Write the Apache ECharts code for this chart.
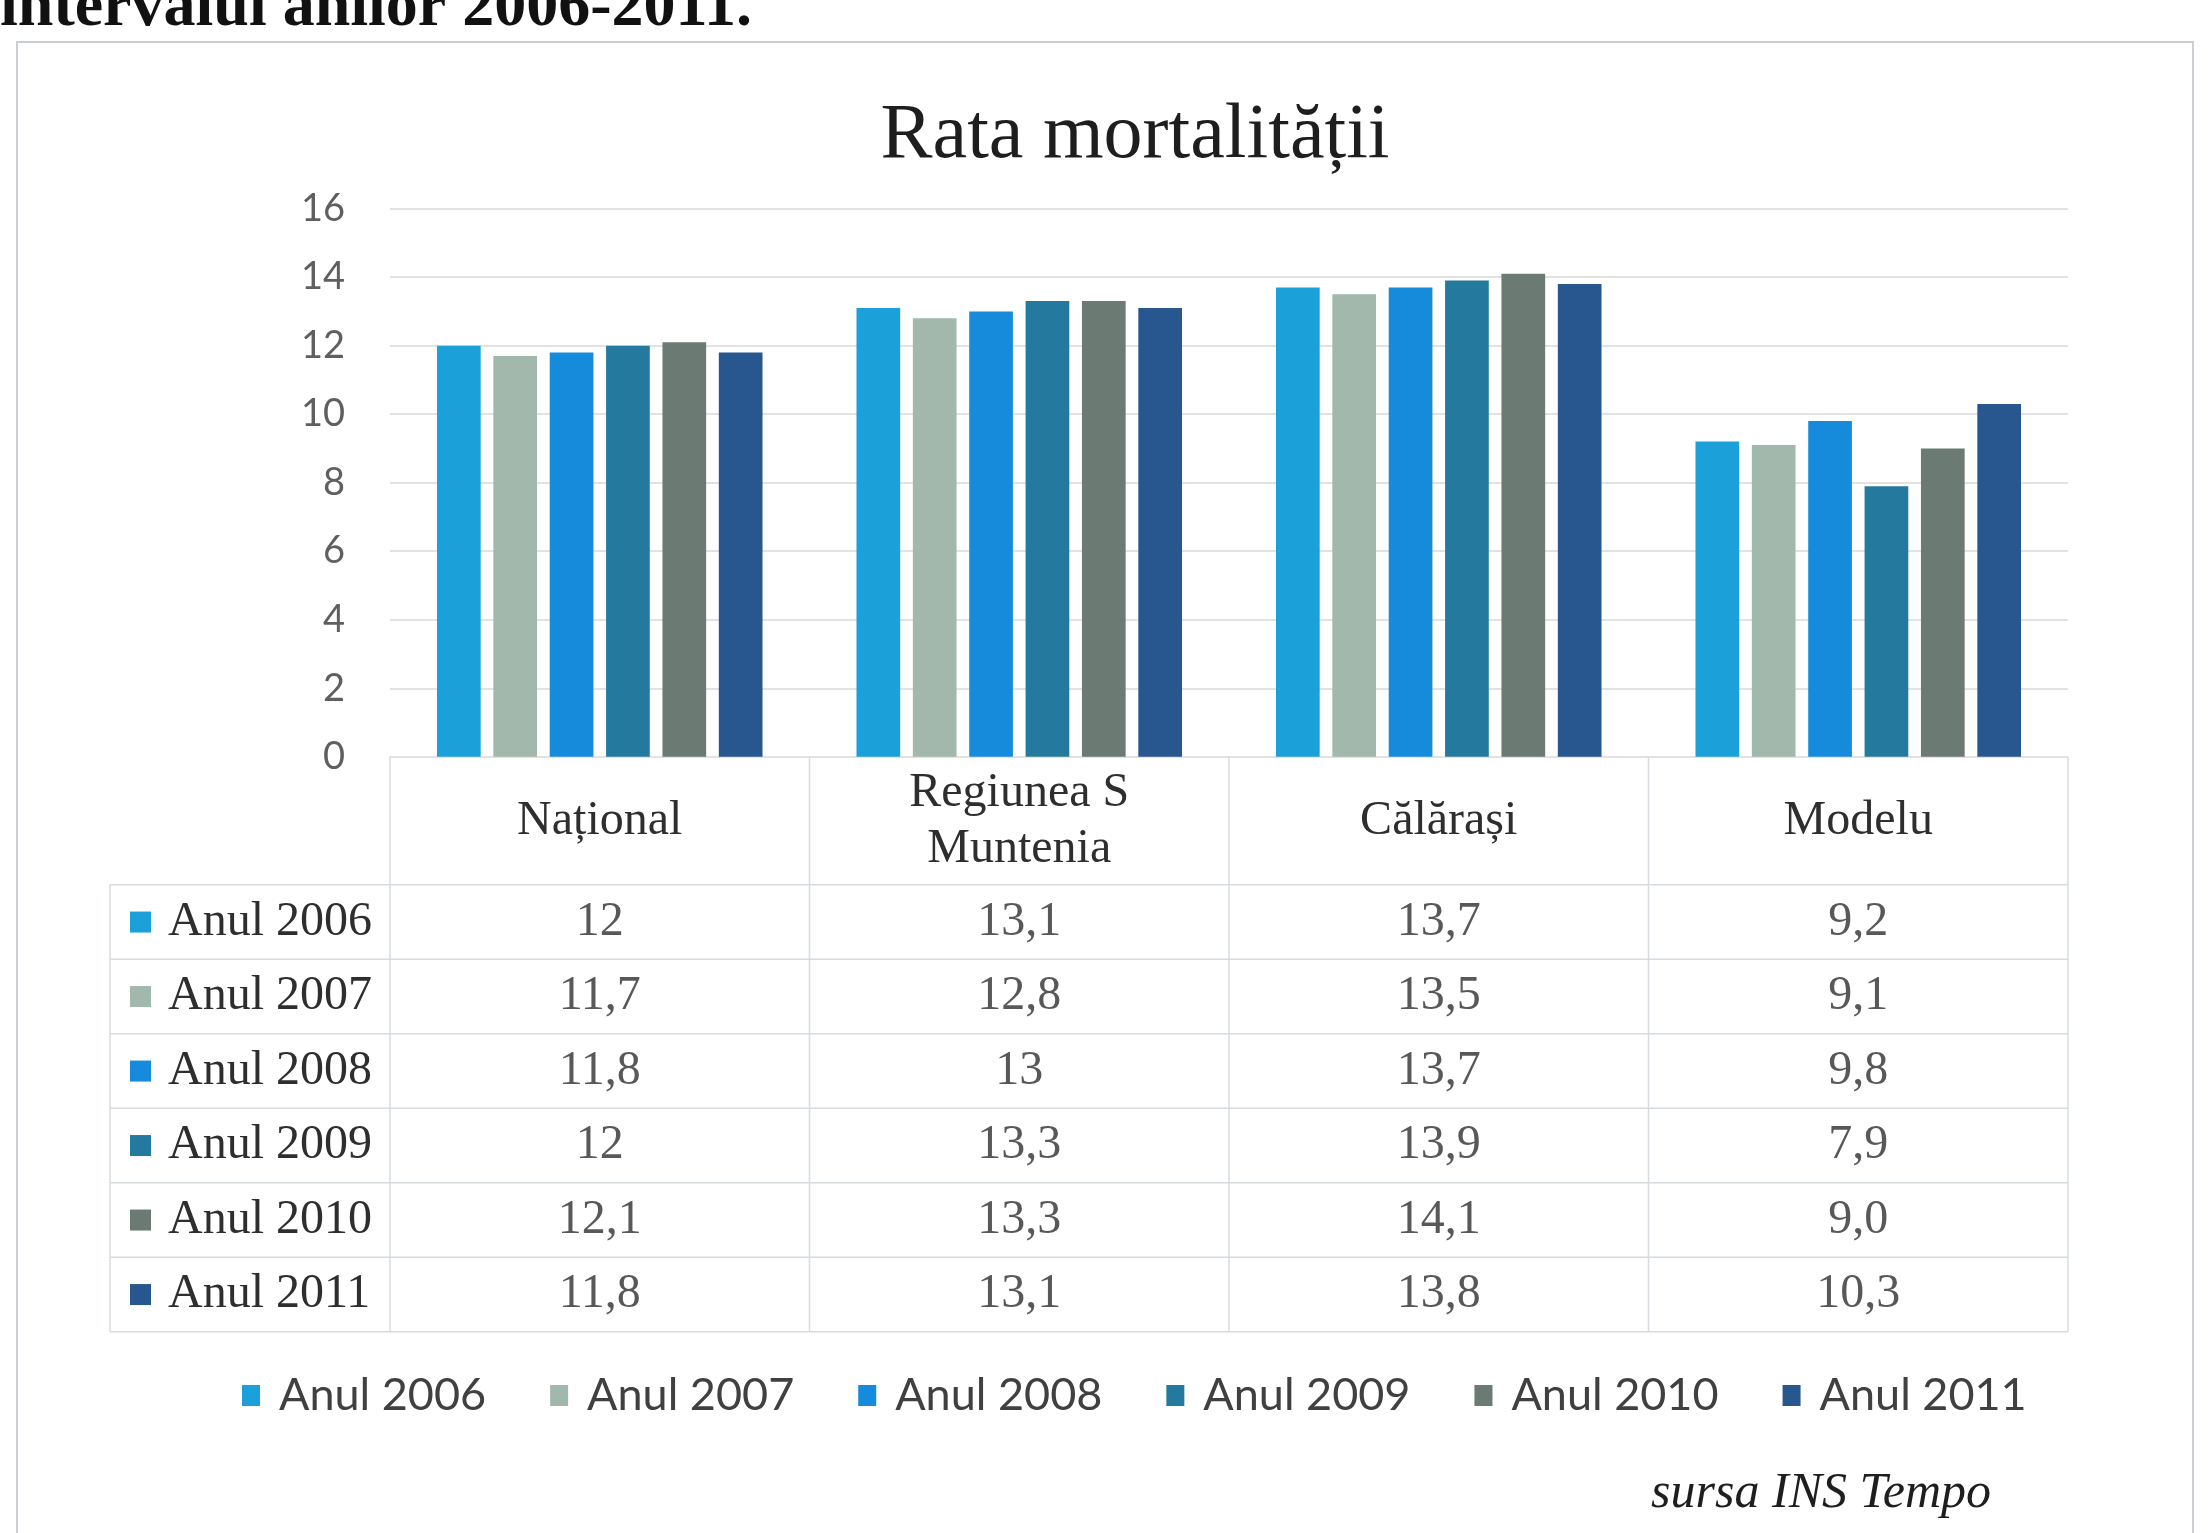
<!DOCTYPE html>
<html>
<head>
<meta charset="utf-8">
<title>Rata mortalității</title>
<script src="https://cdn.jsdelivr.net/npm/echarts@6/dist/echarts.min.js"></script>
<style>
  html, body { margin: 0; padding: 0; background: #fff; }
  #chart { width: 2210px; height: 1533px; }
</style>
</head>
<body>
<div id="chart"></div>
<script>
// date
const categories = ['Național', 'Regiunea S\nMuntenia', 'Călărași', 'Modelu'];
const years = ['Anul 2006', 'Anul 2007', 'Anul 2008', 'Anul 2009', 'Anul 2010', 'Anul 2011'];
const anul2006 = [12, 13.1, 13.7, 9.2];
const anul2007 = [11.7, 12.8, 13.5, 9.1];
const anul2008 = [11.8, 13, 13.7, 9.8];
const anul2009 = [12, 13.3, 13.9, 7.9];
const anul2010 = [12.1, 13.3, 14.1, 9.0];
const anul2011 = [11.8, 13.1, 13.8, 10.3];
// coloana Modelu e scrisa cu o zecimala in tabel
const tableDecimals = [null, null, null, 1];

const seriesData = [anul2006, anul2007, anul2008, anul2009, anul2010, anul2011];
const colors = ['#1ca0d9', '#a3b8ac', '#178bdb', '#237a9e', '#6b7a72', '#28578f'];

// asezare
const plotL = 390, plotR = 2068, plotT = 208.6, plotB = 756.8;
const headH = 128, rowH = 74.5, tabL = 110;
const tabT = plotB + headH;
const tabB = tabT + rowH * years.length;
const lineColor = '#d6dcdf';
const serif = 'Liberation Serif';
const textColor = '#2e2e2e';

function fmt(v, col) {
  let s = tableDecimals[col] == null ? String(v) : v.toFixed(tableDecimals[col]);
  return s.replace('.', ',');
}

let chart = echarts.init(document.getElementById('chart'));

// liniile tabelului
let lines = [];
for (let k = 0; k <= years.length; k++) {
  let y = tabT + k * rowH;
  lines.push({ type: 'line', shape: { x1: tabL, y1: y, x2: plotR, y2: y }, style: { stroke: lineColor, lineWidth: 1.5 } });
}
for (let j = 0; j <= categories.length; j++) {
  let x = plotL + j * (plotR - plotL) / categories.length;
  lines.push({ type: 'line', shape: { x1: x, y1: plotB, x2: x, y2: tabB }, style: { stroke: lineColor, lineWidth: 1.5 } });
}
lines.push({ type: 'line', shape: { x1: tabL, y1: tabT, x2: tabL, y2: tabB }, style: { stroke: lineColor, lineWidth: 1.5 } });

let rich = { g: { width: 17 }, t: { fontFamily: serif, fontSize: 48, color: textColor } };
colors.forEach((c, i) => {
  rich['s' + i] = { width: 21, height: 21, backgroundColor: c };
});

let cells = [];
seriesData.forEach((arr, r) => {
  arr.forEach((v, c) => cells.push([c, r, v]));
});

let series = seriesData.map((arr, i) => ({
  name: years[i],
  type: 'bar',
  xAxisIndex: 0,
  yAxisIndex: 0,
  data: arr,
  barGap: '29%',
  barCategoryGap: '22.4%',
  itemStyle: { color: colors[i] },
  silent: true
}));
series.push({
  name: 'tabel',
  type: 'scatter',
  xAxisIndex: 1,
  yAxisIndex: 1,
  data: cells,
  symbolSize: 1,
  itemStyle: { color: 'transparent' },
  silent: true,
  label: {
    show: true,
    position: 'inside',
    fontFamily: serif,
    fontSize: 48,
    color: textColor,
    formatter: p => fmt(p.value[2], p.value[0])
  }
});

let option = {
  backgroundColor: '#ffffff',
  animation: false,
  color: colors,
  grid: [
    { left: plotL, top: plotT, width: plotR - plotL, height: plotB - plotT, outerBoundsMode: 'none' },
    { left: plotL, top: tabT, width: plotR - plotL, height: tabB - tabT, outerBoundsMode: 'none' }
  ],
  xAxis: [
    {
      type: 'category',
      gridIndex: 0,
      data: categories,
      axisLine: { show: false },
      axisTick: { show: false },
      axisLabel: {
        margin: 65,
        verticalAlign: 'middle',
        fontFamily: serif,
        fontSize: 48,
        lineHeight: 56,
        color: textColor,
        interval: 0
      }
    },
    { type: 'category', gridIndex: 1, data: categories, show: false }
  ],
  yAxis: [
    {
      type: 'value',
      gridIndex: 0,
      min: 0,
      max: 16,
      interval: 2,
      axisLine: { show: false },
      axisTick: { show: false },
      axisLabel: { margin: 45, fontFamily: 'Lato', fontSize: 38, color: '#5f5f5f' },
      splitLine: { lineStyle: { color: '#d9d9d9', width: 1.5 } }
    },
    {
      type: 'category',
      gridIndex: 1,
      inverse: true,
      data: years,
      axisLine: { show: false },
      axisTick: { show: false },
      splitLine: { show: false },
      axisLabel: {
        margin: plotL - 130,
        align: 'left',
        formatter: (val, idx) => '{s' + idx + '|}{g|}{t|' + val + '}',
        rich: rich
      }
    }
  ],
  legend: {
    data: years,
    left: 237,
    top: 1368,
    itemWidth: 18,
    itemHeight: 21,
    itemGap: 64,
    icon: 'rect',
    selectedMode: false,
    textStyle: { fontFamily: 'Lato', fontSize: 45, color: '#404040', padding: [0, 0, 0, 14] }
  },
  graphic: [
    { type: 'rect', shape: { x: 17, y: 42, width: 2176, height: 1560 }, style: { fill: 'none', stroke: '#c9cfd3', lineWidth: 2 } },
    { type: 'text', x: 0, y: 40, style: { text: 'intervalul anilor 2006-2011.', fontFamily: serif, fontWeight: 'bold', fontSize: 64, fill: '#111', verticalAlign: 'bottom' } },
    { type: 'text', x: 1135, y: 137, style: { text: 'Rata mortalității', fontFamily: serif, fontSize: 78, fill: '#1e1e1e', align: 'center', verticalAlign: 'middle' } },
    { type: 'text', x: 1991, y: 1494, style: { text: 'sursa INS Tempo', fontFamily: serif, fontStyle: 'italic', fontSize: 50, fill: '#1e1e1e', align: 'right', verticalAlign: 'middle' } }
  ].concat(lines),
  series: series
};

chart.setOption(option);
</script>
</body>
</html>
